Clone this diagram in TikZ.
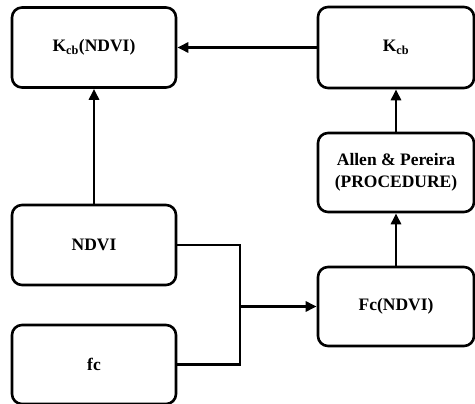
\documentclass[tikz,border=0pt]{standalone}
\usepackage{fontspec}
\setmainfont{Liberation Serif}
\usepackage{tikz}
\usetikzlibrary{arrows.meta}

\begin{document}
\begin{tikzpicture}[x=1pt, y=-1pt, >={Triangle[length=11pt,width=10pt]},
  box/.style={draw, line width=2.6pt, rounded corners=10pt, align=center,
    font=\fontsize{17.5}{22}\selectfont\bfseries, inner sep=0pt},
  lbox/.style={box, minimum width=164pt, minimum height=80pt},
  rbox/.style={box, minimum width=156pt, minimum height=79pt},
  link/.style={line width=2.6pt}]
\useasboundingbox (0,0) rectangle (475,404);

% left column
\node[lbox] (kcbndvi) at (94,47.5) {K\textsubscript{cb}(NDVI)};
\node[lbox] (ndvi) at (94,245) {NDVI};
\node[lbox, minimum height=79pt] (fc) at (94,364.5) {fc};

% right column
\node[rbox, minimum height=81pt] (kcb) at (396,47.5) {K\textsubscript{cb}};
\node[rbox] (allen) at (396,172.5) {Allen \& Pereira\\(PROCEDURE)};
\node[rbox] (fcndvi) at (396,306.5) {Fc(NDVI)};

% joining the two inputs
\coordinate (join) at (240,306.5);
\draw[link] (ndvi.east) -| (join);
\draw[link] (fc.east) -| (join);
\draw[link, ->] (join) -- (fcndvi.west);

% upward flow
\draw[link, ->] (fcndvi.north) -- (allen.south);
\draw[link, ->] (allen.north) -- (kcb.south);
\draw[link, ->] (kcb.west) -- (kcbndvi.east);
\draw[link, ->] (ndvi.north) -- (kcbndvi.south);
\end{tikzpicture}
\end{document}
